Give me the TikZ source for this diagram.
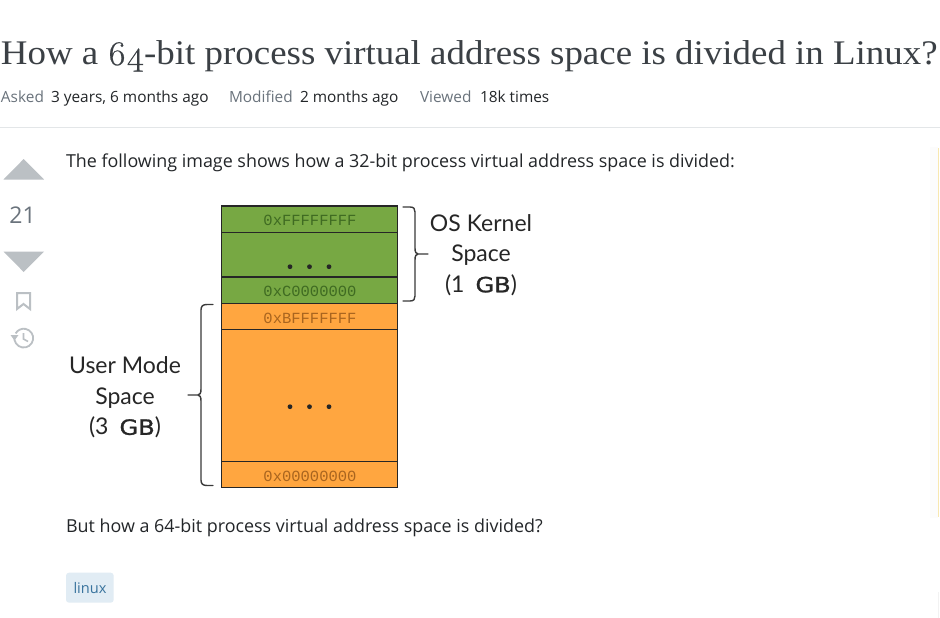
\documentclass[tikz,border=0pt]{standalone}
\usepackage{fontspec}
\setmainfont{Open Sans}
\newfontfamily\titlefont[FakeStretch=1.07]{Liberation Serif}
\newfontfamily\oldnum[Numbers=OldStyle,FakeBold=0.6,FakeStretch=1.05]{Latin Modern Roman}
\newfontfamily\monofont{Liberation Mono}
\newfontfamily\labelfont{Lato}
\newfontfamily\gbfont[FakeStretch=1.15,FakeBold=1.2]{DejaVu Sans}
\definecolor{titlecol}{HTML}{3B4045}
\definecolor{metacol}{HTML}{6A737C}
\definecolor{bodycol}{HTML}{232629}
\definecolor{votecol}{HTML}{BBC0C4}
\definecolor{rulecol}{HTML}{E3E6E8}
\definecolor{greenfill}{HTML}{77A843}
\definecolor{orangefill}{HTML}{FFA640}
\definecolor{greentext}{HTML}{3F6B22}
\definecolor{orangetext}{HTML}{A9651F}
\definecolor{tagfill}{HTML}{E1ECF4}
\definecolor{tagtext}{HTML}{39739D}
\definecolor{bracecol}{HTML}{3A3A3A}
\definecolor{noticecol}{HTML}{F8E8B0}
\tikzset{
  x=1pt,y=-1pt,
  txt/.style={inner sep=0pt,outer sep=0pt,anchor=base west},
  titletext/.style={txt,text=titlecol,font=\titlefont\fontsize{34.5}{40}\selectfont},
  metalabel/.style={txt,text=metacol,font=\fontsize{15.4}{18}\selectfont},
  metavalue/.style={txt,text=bodycol,font=\fontsize{15.4}{18}\selectfont},
  bodytext/.style={txt,text=bodycol,font=\fontsize{17.9}{22}\selectfont},
  cell/.style={draw=black!85,line width=1.5pt},
  addrtext/.style={inner sep=0pt,font=\monofont\fontsize{15.5}{17}\selectfont},
  sidelabel/.style={align=center,inner sep=0pt,text=black!85,font=\labelfont\fontsize{23}{30.5}\selectfont},
  bracepath/.style={draw=bracecol,line width=1.4pt,line cap=round},
  votetri/.style={fill=votecol,draw=none},
  iconline/.style={draw=votecol,line width=2pt}
}
\begin{document}
\begin{tikzpicture}
\useasboundingbox (0,0) rectangle (940,618);
\fill[white] (0,0) rectangle (940,618);

% page text
\node[titletext] (title) at (1,65) {How a {\oldnum 64}-bit process virtual address space is divided in Linux?};
\node[metalabel] (asked) at (1,102.5) {Asked};
\node[metavalue] (askedv) at (51,102.5) {3 years, 6 months ago};
\node[metalabel] (mod) at (229,102.5) {Modified};
\node[metavalue] (modv) at (300,102.5) {2 months ago};
\node[metalabel] (view) at (420,102.5) {Viewed};
\node[metavalue] (viewv) at (480,102.5) {18k times};
\draw[rulecol,line width=1pt] (0,127.3) -- (940,127.3);
\node[bodytext] (intro) at (66,167.5) {The following image shows how a 32-bit process virtual address space is divided:};
\node[bodytext] (outro) at (66,532.5) {But how a 64-bit process virtual address space is divided?};

% vote column
\fill[votecol] (3.5,179.5) -- (23.7,159) -- (44,179.5) -- cycle;
\node[inner sep=0pt,text=metacol,font=\fontsize{23}{26}\selectfont] (score) at (22.5,215) {21};
\fill[votecol] (3.5,251.5) -- (44,251.5) -- (23.7,272) -- cycle;
\draw[iconline,line join=miter] (17,293) -- (30,293) -- (30,309) -- (23.5,304) -- (17,309) -- cycle;
\draw[iconline,line width=1.8pt] (14.5,336.5) arc[start angle=190,end angle=-150,radius=9.4];
\fill[votecol] (10.5,335) -- (18.5,335) -- (14.5,340.5) -- cycle;
\draw[iconline,line width=1.6pt] (23.5,333) -- (23.5,339) -- (28,341.5);

% memory map
\fill[greenfill] (221.5,206) rectangle (397.7,303.3);
\fill[orangefill] (221.5,303.3) rectangle (397.7,487.3);
\draw[cell] (221.5,206) rectangle (397.7,487.3);
\foreach \yy in {232.3,277,303.3,329.3,461.3} \draw[cell] (221.5,\yy) -- (397.7,\yy);
\node[addrtext,text=greentext] (a1) at (310,220) {0xFFFFFFFF};
\node[addrtext,text=greentext] (a2) at (310,291.5) {0xC0000000};
\node[addrtext,text=orangetext] (a3) at (310,318) {0xBFFFFFFF};
\node[addrtext,text=orangetext] (a4) at (310,476) {0x00000000};
\foreach \xx in {290,309.5,329} {
  \fill[black!85] (\xx,266.7) circle (2.4);
  \fill[black!85] (\xx,406.7) circle (2.4);
}

% braces
\draw[bracepath] (403,207) -- (410,207) .. controls (414,207) and (415,209) .. (415,212)
  -- (415,248) .. controls (415,252) and (416,254) .. (418,254) -- (428,254)
  (418,254) .. controls (416,254) and (415,256) .. (415,260)
  -- (415,296) .. controls (415,299) and (414,301) .. (410,301) -- (403,301);
\draw[bracepath] (213,304.5) -- (207,304.5) .. controls (203,304.5) and (201,306) .. (201,310)
  -- (201,389) .. controls (201,393) and (200,395) .. (198,395) -- (188,395)
  (198,395) .. controls (200,395) and (201,397) .. (201,401)
  -- (201,480) .. controls (201,484) and (203,485.5) .. (207,485.5) -- (213,485.5);
\node[sidelabel] (oslabel) at (481,255) {OS Kernel\\Space\\(1\hspace{11pt}{\gbfont\fontsize{21}{24}\selectfont GB})};
\node[sidelabel] (userlabel) at (125,397.5) {User Mode\\Space\\(3\hspace{11pt}{\gbfont\fontsize{21}{24}\selectfont GB})};

% tag
\fill[tagfill,rounded corners=3pt] (66,572.7) rectangle (113.7,602.7);
\node[inner sep=0pt,anchor=base,text=tagtext,font=\fontsize{14.6}{17}\selectfont] (tag) at (90,593) {linux};

% right edge
\fill[black!1] (930,147) rectangle (938,518);
\draw[noticecol,line width=1.2pt] (938.8,148) -- (938.8,517);
\draw[black!5,line width=1pt] (938.8,592) -- (938.8,618);
\end{tikzpicture}
\end{document}
